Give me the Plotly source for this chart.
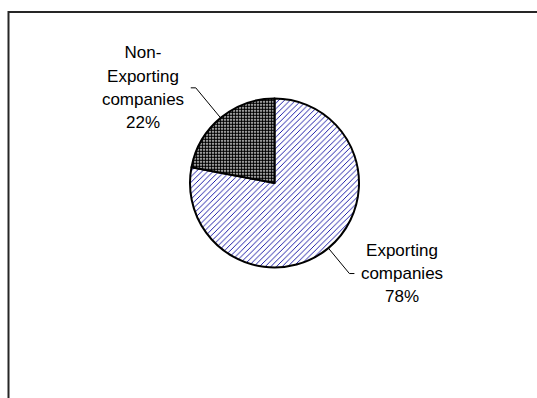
import math
import plotly.graph_objects as go

# ---- data ----
categories = ["Exporting companies", "Non-Exporting companies"]
label_lines = [["Exporting", "companies"], ["Non-", "Exporting", "companies"]]
values = [78, 22]

# ---- layout / style constants (pixels) ----
W, H = 537, 398
CX, CY, R = 274.5, 183.0, 84.5
leader_len = [33, 39]          # diagonal length of leader line
tick_len = 5
text_gap = 1
LINE_PITCH = 23.4
BOX_W = 94
FONT = dict(family="Liberation Sans, Arial, sans-serif", size=17, color="#000000")


def px(x):
    return x / W


def py(y):
    return 1 - y / H


fig = go.Figure()
fig.add_trace(go.Pie(
    labels=categories,
    values=values,
    sort=False,
    direction="clockwise",
    rotation=0,
    textinfo="none",
    hoverinfo="skip",
    showlegend=False,
    domain=dict(x=[px(CX - R), px(CX + R)], y=[py(CY + R), py(CY - R)]),
    marker=dict(
        colors=["#ffffff", "#ffffff"],
        line=dict(color="#000000", width=2),
        pattern=dict(
            shape=["/", "."],
            fgcolor=["#00009c", "#000000"],
            bgcolor=["#ffffff", "#ffffff"],
            size=[4, 3],
            solidity=[0.22, 0.7],
        ),
    ),
))

total = sum(values)
cum = 0.0
shapes = []
annotations = []
for i, v in enumerate(values):
    mid = (cum + v / 2) / total * 2 * math.pi  # clockwise from 12 o'clock
    cum += v
    sx = CX + R * math.sin(mid)
    sy = CY - R * math.cos(mid)
    dx = math.copysign(1, math.sin(mid))
    dy = -math.copysign(1, math.cos(mid))
    ang = math.atan2(abs(math.cos(mid)), abs(math.sin(mid)))
    ex = sx + dx * leader_len[i] * math.cos(ang)
    ey = sy + dy * leader_len[i] * math.sin(ang)
    tx = ex + dx * tick_len
    shapes.append(dict(
        type="path", xref="paper", yref="paper",
        path=f"M {px(sx)} {py(sy)} L {px(ex)} {py(ey)} L {px(tx)} {py(ey)}",
        line=dict(color="#000000", width=1),
    ))
    pct = round(v / total * 100)
    lines = label_lines[i] + [f"{pct}%"]
    n = len(lines)
    for k, line in enumerate(lines):
        yk = ey + (k - (n - 1) / 2) * LINE_PITCH
        annotations.append(dict(
            x=px(tx + dx * text_gap), y=py(yk), xref="paper", yref="paper",
            xanchor="left" if dx > 0 else "right", yanchor="middle",
            width=BOX_W, align="center", showarrow=False, text=line, font=FONT,
            borderpad=0, borderwidth=0,
        ))

# chart frame
shapes.append(dict(
    type="rect", xref="paper", yref="paper",
    x0=px(8.5), x1=px(W + 20), y0=py(H + 20), y1=py(12),
    line=dict(color="#262626", width=2), fillcolor="rgba(0,0,0,0)",
))

fig.update_layout(
    width=W, height=H,
    margin=dict(l=0, r=0, t=0, b=0),
    paper_bgcolor="#ffffff",
    plot_bgcolor="#ffffff",
    shapes=shapes,
    annotations=annotations,
)

fig.write_html("out.html")
